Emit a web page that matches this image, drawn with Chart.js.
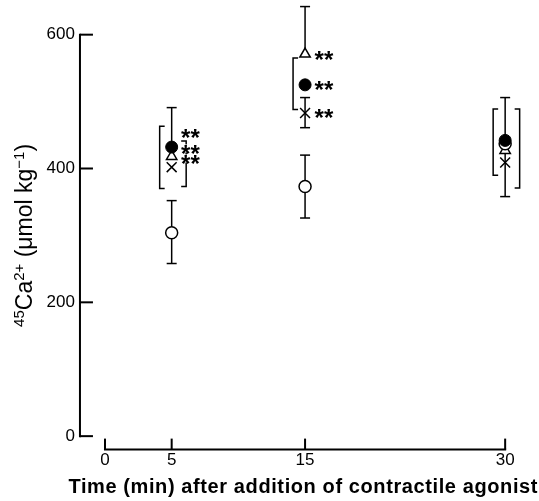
<!DOCTYPE html>
<html>
<head>
<meta charset="utf-8">
<script src="https://cdn.jsdelivr.net/npm/chart.js@4.4.1/dist/chart.umd.min.js"></script>
<style>
html, body { margin: 0; padding: 0; background: #fff; }
</style>
</head>
<body>
<canvas id="chart" width="539" height="501"></canvas>
<script>
// values (umol/kg)
var times = [5, 15, 30];
var xTickValues = [0, 5, 15, 30];
var yTickValues = [0, 200, 400, 600];

var control = [304, 373, 437];          // open circles
var controlHigh = [352, 420, null];
var controlLow = [258, 326, null];

var agonistA = [432, 525, 442];         // filled circles
var agonistAHigh = [491, null, 506];
var agonistALow = [null, null, 358];

var agonistB = [418, 571, 427];         // open triangles
var agonistBHigh = [null, 642, null];
var agonistBLow = [null, null, null];

var agonistC = [402, 483, 409];         // crosses
var agonistCHigh = [null, 506, null];
var agonistCLow = [null, 461, null];

var starTimes = [5, 5, 5, 15, 15, 15];
var starValues = [454, 430, 415, 571, 525, 483];

var leftBracketLow = [370, 488, 390];
var leftBracketHigh = [463, 565, 489];
var rightBracketLow = [373, null, 371];
var rightBracketHigh = [441, null, 489];

var xTitle = 'Time (min) after addition of contractile agonist';
// y title pieces: [text, superscript?]
var yTitleRuns = [['45', true], ['Ca', false], ['2+', true], [' (\u03bcmol kg', false], ['\u22121', true], [')', false]];

function pts(vals) {
    return times.map(function (t, i) { return { x: t, y: vals[i] }; });
}

function line(ctx, x1, y1, x2, y2) {
    ctx.beginPath();
    ctx.moveTo(x1, y1);
    ctx.lineTo(x2, y2);
    ctx.stroke();
}

var decor = {
    id: 'decor',
    beforeDatasetsDraw: function (chart) {
        var ctx = chart.ctx, xs = chart.scales.x, ys = chart.scales.y;
        ctx.save();
        ctx.strokeStyle = '#000';
        ctx.lineWidth = 1.5;
        chart.data.datasets.forEach(function (ds) {
            ds.data.forEach(function (p, i) {
                var px = xs.getPixelForValue(p.x);
                var py = ys.getPixelForValue(p.y);
                [ds.errHigh[i], ds.errLow[i]].forEach(function (v) {
                    if (v == null) return;
                    var ey = ys.getPixelForValue(v);
                    line(ctx, px, py, px, ey);
                    line(ctx, px - 5, ey, px + 5, ey);
                });
            });
        });
        // brackets
        times.forEach(function (t, i) {
            var px = xs.getPixelForValue(t);
            if (leftBracketLow[i] != null) {
                var bx = px - 12, y1 = ys.getPixelForValue(leftBracketHigh[i]), y2 = ys.getPixelForValue(leftBracketLow[i]);
                ctx.beginPath();
                ctx.moveTo(bx + 5, y1); ctx.lineTo(bx, y1); ctx.lineTo(bx, y2); ctx.lineTo(bx + 5, y2);
                ctx.stroke();
            }
            if (rightBracketLow[i] != null) {
                var rx = px + 14.5, r1 = ys.getPixelForValue(rightBracketHigh[i]), r2 = ys.getPixelForValue(rightBracketLow[i]);
                ctx.beginPath();
                ctx.moveTo(rx - 5, r1); ctx.lineTo(rx, r1); ctx.lineTo(rx, r2); ctx.lineTo(rx - 5, r2);
                ctx.stroke();
            }
        });
        ctx.restore();
    },
    afterDraw: function (chart) {
        var ctx = chart.ctx, xs = chart.scales.x, ys = chart.scales.y, area = chart.chartArea;
        ctx.save();
        ctx.strokeStyle = '#000';
        ctx.lineWidth = 2;
        // y axis with inward ticks
        var ax = area.left;
        line(ctx, ax, ys.getPixelForValue(0) + 1, ax, ys.getPixelForValue(600) - 1);
        yTickValues.forEach(function (v) {
            var y = ys.getPixelForValue(v);
            line(ctx, ax, y, ax + 13, y);
        });
        // x axis with upward ticks
        var ay = area.bottom - 1;
        line(ctx, xs.getPixelForValue(0) - 1, ay, xs.getPixelForValue(30) + 1, ay);
        xTickValues.forEach(function (v) {
            var x = xs.getPixelForValue(v);
            line(ctx, x, ay, x, ay - 11);
        });
        // significance stars
        ctx.font = 'bold 24px "Liberation Sans"';
        ctx.textAlign = 'center';
        ctx.textBaseline = 'alphabetic';
        starTimes.forEach(function (t, i) {
            var x = xs.getPixelForValue(t), y = ys.getPixelForValue(starValues[i]);
            ctx.fillStyle = '#fff';
            ctx.fillRect(x + 9, y - 4, 20, 8);
            ctx.fillStyle = '#000';
            ctx.fillText('*', x + 14, y + 13.5);
            ctx.fillText('*', x + 23.5, y + 13.5);
        });
        // x axis title, slightly tracked like the print
        ctx.save();
        ctx.font = 'bold 20px "Liberation Sans"';
        ctx.letterSpacing = '0.6px';
        ctx.textAlign = 'center';
        ctx.textBaseline = 'middle';
        ctx.fillText(xTitle, (area.left + area.right) / 2 - 2, 487);
        ctx.restore();
        // y axis title with real superscripts
        var big = '23px "Liberation Sans"', small = '15px "Liberation Sans"';
        var total = 0;
        yTitleRuns.forEach(function (r) { ctx.font = r[1] ? small : big; total += ctx.measureText(r[0]).width; });
        ctx.translate(32, (ys.getPixelForValue(0) + ys.getPixelForValue(600)) / 2);
        ctx.rotate(-Math.PI / 2);
        ctx.textAlign = 'left';
        var pos = -total / 2;
        yTitleRuns.forEach(function (r) {
            ctx.font = r[1] ? small : big;
            ctx.fillText(r[0], pos, r[1] ? -8 : 0);
            pos += ctx.measureText(r[0]).width;
        });
        ctx.restore();
    }
};

Chart.defaults.color = '#000';
Chart.defaults.font.family = '"Liberation Sans", Arial, sans-serif';

new Chart(document.getElementById('chart').getContext('2d'), {
    type: 'scatter',
    data: {
        datasets: [
            {
                label: 'Agonist A',
                data: pts(agonistA), errHigh: agonistAHigh, errLow: agonistALow,
                pointStyle: 'circle', pointRadius: 6, backgroundColor: '#000', borderColor: '#000', borderWidth: 1
            },
            {
                label: 'Control',
                data: pts(control), errHigh: controlHigh, errLow: controlLow,
                pointStyle: 'circle', pointRadius: 6, backgroundColor: '#fff', borderColor: '#000', borderWidth: 1.5
            },
            {
                label: 'Agonist B',
                data: pts(agonistB), errHigh: agonistBHigh, errLow: agonistBLow,
                pointStyle: 'triangle', pointRadius: 6, backgroundColor: '#fff', borderColor: '#000', borderWidth: 1.5
            },
            {
                label: 'Agonist C',
                data: pts(agonistC), errHigh: agonistCHigh, errLow: agonistCLow,
                pointStyle: 'crossRot', pointRadius: 7, backgroundColor: '#000', borderColor: '#000', borderWidth: 1.5
            }
        ]
    },
    options: {
        responsive: false,
        animation: false,
        clip: false,
        layout: { padding: { left: 41.6, right: 4, top: 0, bottom: 30 } },
        plugins: {
            legend: { display: false },
            tooltip: { enabled: false }
        },
        scales: {
            x: {
                type: 'linear',
                min: -1.875,
                max: 31.9,
                grid: { display: false, drawTicks: false },
                border: { display: false },
                afterBuildTicks: function (axis) {
                    axis.ticks = xTickValues.map(function (v) { return { value: v }; });
                },
                ticks: { padding: 0, font: { size: 17 }, maxRotation: 0 },
                title: { display: false }
            },
            y: {
                min: -21.6,
                max: 629.1,
                grid: { display: false, drawTicks: false },
                border: { display: false },
                afterBuildTicks: function (axis) {
                    axis.ticks = yTickValues.map(function (v) { return { value: v }; });
                },
                ticks: { padding: 5, font: { size: 17 } },
                title: { display: false }
            }
        }
    },
    plugins: [decor]
});
</script>
</body>
</html>
